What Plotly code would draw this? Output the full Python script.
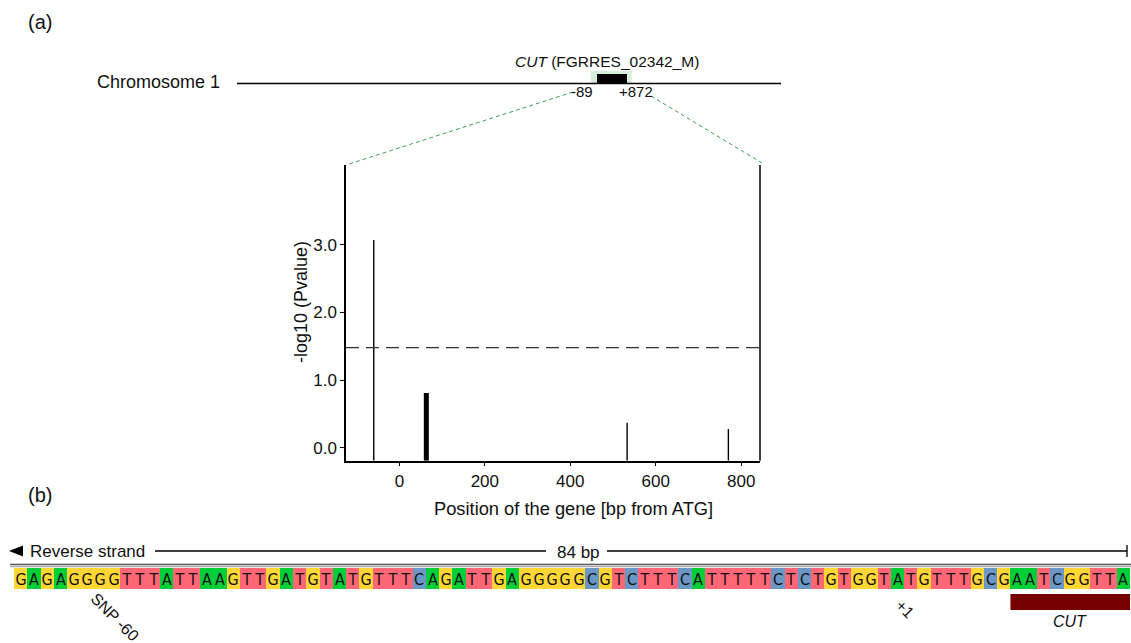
import plotly.graph_objects as go

W, H = 1131, 643

# ---------------- data ----------------
snp_pos = [-60, 770, 533]          # bp from ATG (thin stems)
snp_logp = [3.07, 0.28, 0.37]      # -log10(P)
snp_thick_pos = [63]               # clustered SNPs drawn as a thick stem
snp_thick_logp = [0.81]
threshold = 1.48
x_range = [-125, 844]
y_range = [-0.19, 4.18]
x_ticks = [0, 200, 400, 600, 800]
y_ticks = [0.0, 1.0, 2.0, 3.0]
y_ticklabels = ["0.0", "1.0", "2.0", "3.0"]

sequence = list("GAGAGGGGTTTATTAAGTTGATGTATGTTTCAGATTGAGGGGGCGTCTTTCATTTTTCTCTGTGGTATGTTTGCGAATCGGTTA")
bases = ["A", "C", "G", "T"]
base_colors = ["#00CF3A", "#6B97C6", "#FFD633", "#FF6777"]
snp_cell = 7        # SNP -60 position in the displayed sequence
tss_cell = 67       # +1
cut_cells = [76, 84]
gene_start_label, gene_end_label = "-89", "+872"

FONT = "Liberation Sans, Arial, sans-serif"
NARROW = "DejaVu Sans Condensed, Liberation Sans Narrow, Arial Narrow, sans-serif"


def px(x):
    return x / W


def py(y):
    return 1 - y / H


fig = go.Figure()

# ---------------- panel (a): stem plot ----------------
ymin = y_range[0]
xs, ys = [], []
for p, v in zip(snp_pos, snp_logp):
    xs += [p, p, None]
    ys += [ymin, v, None]
fig.add_trace(go.Scatter(x=xs, y=ys, mode="lines", line=dict(color="black", width=1.4),
                         showlegend=False, hoverinfo="skip"))
xs, ys = [], []
for p, v in zip(snp_thick_pos, snp_thick_logp):
    xs += [p, p, None]
    ys += [ymin, v, None]
fig.add_trace(go.Scatter(x=xs, y=ys, mode="lines", line=dict(color="black", width=5),
                         showlegend=False, hoverinfo="skip"))

fig.update_layout(
    xaxis=dict(domain=[px(346), px(760)], range=x_range, tickvals=x_ticks,
               showline=True, linecolor="black", linewidth=1.5, ticks="outside",
               ticklen=4, tickcolor="black", showgrid=False, zeroline=False,
               tickfont=dict(family=FONT, size=17, color="#111"), anchor="y"),
    yaxis=dict(domain=[py(460.7), py(165)], range=y_range, tickvals=y_ticks,
               ticktext=y_ticklabels,
               showline=True, linecolor="black", linewidth=1.5, ticks="outside",
               ticklen=4, tickcolor="black", showgrid=False, zeroline=False,
               tickfont=dict(family=FONT, size=17, color="#111"), anchor="x"),
)

# ---------------- panel (b): sequence ----------------
zvals = [[bases.index(b) for b in sequence]]
cells = list(range(1, len(sequence) + 1))
cs = []
n = len(bases)
for i, c in enumerate(base_colors):
    cs.append([i / n, c])
    cs.append([(i + 1) / n, c])
fig.add_trace(go.Heatmap(
    z=zvals, x=cells, y=[0], text=[sequence], texttemplate="%{text}",
    textfont=dict(family=NARROW, size=16, color="#111"),
    colorscale=cs, zmin=-0.5, zmax=n - 0.5, showscale=False,
    xaxis="x2", yaxis="y2", hoverinfo="skip"))

fig.update_layout(
    xaxis2=dict(domain=[px(14), px(1130)], range=[0.5, len(sequence) + 0.5],
                visible=False, anchor="y2"),
    yaxis2=dict(domain=[py(589), py(568)], range=[-0.5, 0.5], visible=False, anchor="x2"),
)

shapes = []
annotations = []

# threshold
shapes.append(dict(type="line", xref="x domain", yref="y", x0=0, x1=1, y0=threshold, y1=threshold,
                   line=dict(color="#333", width=1.3, dash="13px,7px")))
# right border of plot
shapes.append(dict(type="line", xref="x domain", yref="y domain", x0=1, x1=1, y0=0, y1=1,
                   line=dict(color="black", width=1.5)))

# chromosome
shapes.append(dict(type="line", xref="paper", yref="paper", x0=px(237), x1=px(781),
                   y0=py(83.5), y1=py(83.5), line=dict(color="black", width=1.5)))
shapes.append(dict(type="rect", xref="paper", yref="paper", x0=px(590.7), x1=px(631.7),
                   y0=py(83.3), y1=py(70.7), fillcolor="#d8eedb", line=dict(width=0), layer="below"))
shapes.append(dict(type="rect", xref="paper", yref="paper", x0=px(597), x1=px(627),
                   y0=py(84), y1=py(74), fillcolor="black", line=dict(width=0)))
# zoom lines
shapes.append(dict(type="line", xref="paper", yref="paper", x0=px(573), y0=py(92), x1=px(346), y1=py(165),
                   line=dict(color="#3aa64a", width=1, dash="4px,3px")))
shapes.append(dict(type="line", xref="paper", yref="paper", x0=px(651), y0=py(96), x1=px(762), y1=py(163),
                   line=dict(color="#3aa64a", width=1, dash="4px,3px")))

# panel b header
shapes.append(dict(type="path", xref="paper", yref="paper",
                   path=f"M {px(9)},{py(551)} L {px(23)},{py(545.5)} L {px(23)},{py(556.5)} Z",
                   fillcolor="black", line=dict(width=0)))
shapes.append(dict(type="line", xref="paper", yref="paper", x0=px(155), x1=px(546), y0=py(551), y1=py(551),
                   line=dict(color="black", width=1.3)))
shapes.append(dict(type="line", xref="paper", yref="paper", x0=px(607), x1=px(1127), y0=py(551), y1=py(551),
                   line=dict(color="black", width=1.3)))
shapes.append(dict(type="line", xref="paper", yref="paper", x0=px(1127), x1=px(1127), y0=py(545), y1=py(557),
                   line=dict(color="black", width=1.3)))
shapes.append(dict(type="line", xref="paper", yref="paper", x0=px(10), x1=px(1131), y0=py(564.6), y1=py(564.6),
                   line=dict(color="#555", width=1.5)))
shapes.append(dict(type="line", xref="paper", yref="paper", x0=px(10), x1=px(1131), y0=py(566.6), y1=py(566.6),
                   line=dict(color="#aaa", width=1.3)))
# CUT bar
shapes.append(dict(type="rect", xref="x2", yref="paper", x0=cut_cells[0] - 0.5, x1=cut_cells[1] + 0.5,
                   y0=py(610), y1=py(594), fillcolor="#760000", line=dict(width=0)))


def txt(x, y, s, size=16, xanchor="center", yanchor="middle", angle=0, xref="paper", xshift=0, family=FONT):
    annotations.append(dict(x=x, y=y, xref=xref, yref="paper", text=s, showarrow=False,
                            xanchor=xanchor, yanchor=yanchor, textangle=angle, xshift=xshift,
                            font=dict(family=family, size=size, color="#111")))


txt(px(40), py(22), "(a)", size=20)
txt(px(40), py(495), "(b)", size=20)
txt(px(222), py(82), "Chromosome 1", size=18, xanchor="right")
txt(px(607), py(61), "<i>CUT</i> (FGRRES_02342_M)", size=15.5)
txt(px(582), py(91), gene_start_label, size=15)
txt(px(636), py(91), gene_end_label, size=15)
txt(px(301), py(302), "-log10 (Pvalue)", size=18, angle=-90)
txt(px(573), py(508), "Position of the gene [bp from ATG]", size=18.3)
txt(px(28), py(551), "Reverse strand", size=17, xanchor="left")
txt(px(578), py(552), f"{len(sequence)} bp", size=17)
txt(snp_cell, py(617), "SNP -60", size=16, angle=45, xref="x2", xshift=15)
txt(tss_cell, py(608.5), "+1", size=16, angle=45, xref="x2", xshift=7)
txt((cut_cells[0] + cut_cells[1]) / 2, py(621.5), "<i>CUT</i>", size=16, xref="x2")

fig.update_layout(
    width=W, height=H, margin=dict(l=0, r=0, t=0, b=0),
    paper_bgcolor="white", plot_bgcolor="white",
    shapes=shapes, annotations=annotations, showlegend=False,
)

fig.write_html("out.html", config={"displayModeBar": False},
               post_script="document.body.style.margin='0';document.body.style.overflow='hidden';")
